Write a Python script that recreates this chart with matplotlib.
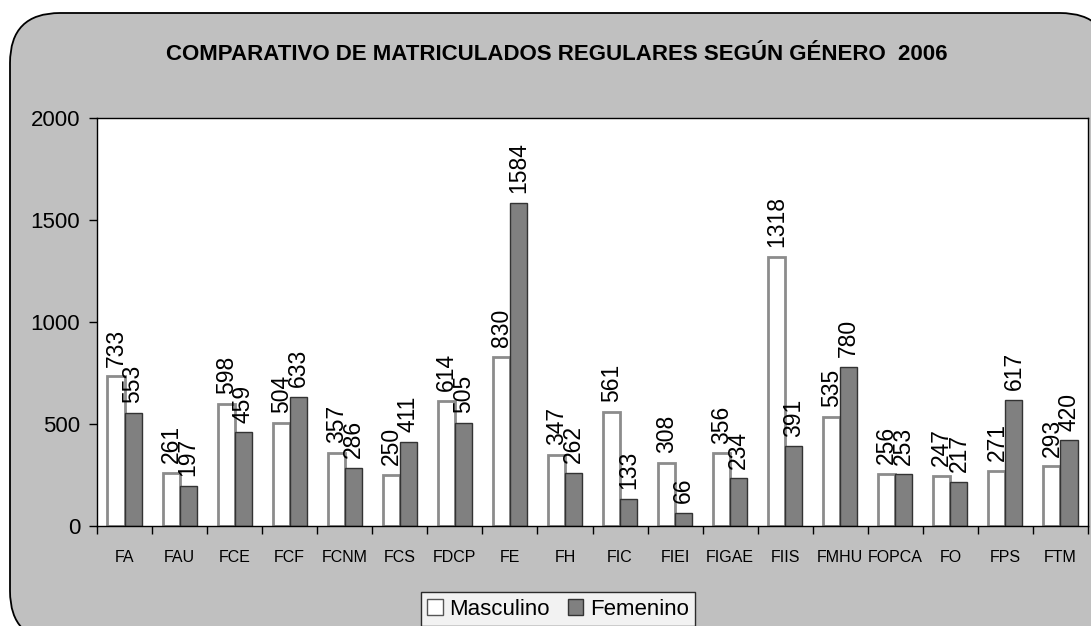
import matplotlib.pyplot as plt
import numpy as np
from matplotlib.patches import FancyBboxPatch, Patch

categories = ['FA', 'FAU', 'FCE', 'FCF', 'FCNM', 'FCS', 'FDCP', 'FE', 'FH', 'FIC',
              'FIEI', 'FIGAE', 'FIIS', 'FMHU', 'FOPCA', 'FO', 'FPS', 'FTM']
masculino = [733, 261, 598, 504, 357, 250, 614, 830, 347, 561,
             308, 356, 1318, 535, 256, 247, 271, 293]
femenino = [553, 197, 459, 633, 286, 411, 505, 1584, 262, 133,
            66, 234, 391, 780, 253, 217, 617, 420]
yticks = [0, 500, 1000, 1500, 2000]

plt.rcParams['font.family'] = ['Liberation Sans', 'DejaVu Sans']

W, H = 1091, 626
fig = plt.figure(figsize=(W / 100, H / 100), dpi=100)
fig.patch.set_facecolor('white')

# rounded grey chart area, in pixel coords
bg = fig.add_axes([0, 0, 1, 1])
bg.set_xlim(0, W)
bg.set_ylim(H, 0)
bg.axis('off')
bg.add_patch(FancyBboxPatch((10, 13), 1100, 628,
                            boxstyle='round,pad=0,rounding_size=50',
                            facecolor='#c0c0c0', edgecolor='black', linewidth=1.3))

ax = fig.add_axes([97 / W, 1 - 526 / H, (1088 - 97) / W, (526 - 118) / H])
ax.set_facecolor('white')

x = np.arange(len(categories))
bw = 0.31
ax.bar(x - bw / 2, masculino, bw, color='white', edgecolor='#8c8c8c', linewidth=2)
ax.bar(x + bw / 2, femenino, bw, color='#808080', edgecolor='#333333', linewidth=1)

for xi, v in zip(x, masculino):
    ax.annotate(str(v), (xi - bw / 2, v), xytext=(0, 7), textcoords='offset points',
                rotation=90, ha='center', va='bottom', fontsize=16.5)
for xi, v in zip(x, femenino):
    ax.annotate(str(v), (xi + bw / 2, v), xytext=(0, 7), textcoords='offset points',
                rotation=90, ha='center', va='bottom', fontsize=16.5)

ax.set_xlim(-0.5, len(categories) - 0.5)
ax.set_ylim(0, 2000)
ax.set_yticks(yticks)
ax.tick_params(axis='y', labelsize=16, length=6, width=1, pad=6)

ax.set_xticks(x)
ax.set_xticklabels(categories, fontsize=11.5)
ax.set_xticks(np.arange(-0.5, len(categories)), minor=True)
ax.tick_params(axis='x', which='major', length=0, pad=17)
ax.tick_params(axis='x', which='minor', length=6, width=1)

for s in ax.spines.values():
    s.set_color('black')
    s.set_linewidth(1)

fig.text(557 / W, 1 - 55 / H, 'COMPARATIVO DE MATRICULADOS REGULARES SEGÚN GÉNERO  2006',
         ha='center', va='center', fontsize=16, fontweight='bold')

handles = [Patch(facecolor='white', edgecolor='#555555', linewidth=1),
           Patch(facecolor='#808080', edgecolor='#333333', linewidth=1)]
leg = fig.legend(handles, ['Masculino', 'Femenino'], loc='upper center',
                 bbox_to_anchor=(558 / W, 1 - 592 / H), ncol=2, fontsize=16,
                 frameon=True, fancybox=False, edgecolor='black',
                 handlelength=0.7, handleheight=0.7, handletextpad=0.3,
                 columnspacing=0.8, borderpad=0.3, borderaxespad=0)
leg.get_frame().set_linewidth(1)

fig.savefig('out.png', dpi=100)
